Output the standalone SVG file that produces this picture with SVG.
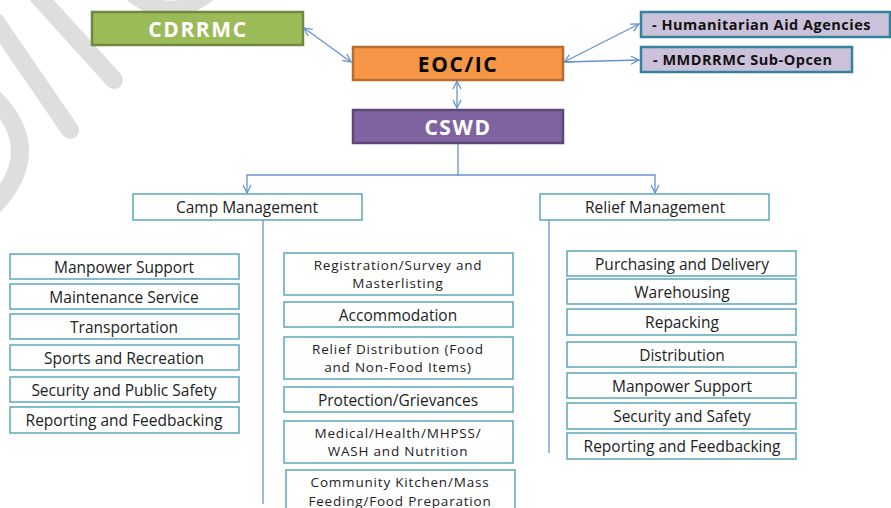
<svg xmlns="http://www.w3.org/2000/svg" width="891" height="508" viewBox="0 0 891 508">
<defs>
<style>
.wm{fill:none;stroke:#dedede;stroke-linecap:round}
.head{font-family:"Open Sans","Liberation Sans",sans-serif;font-weight:bold;font-size:21px;letter-spacing:1.6px;text-anchor:middle;dominant-baseline:central}
.side{font-family:"Open Sans","Liberation Sans",sans-serif;font-weight:bold;font-size:14.5px;letter-spacing:0.5px;fill:#111;dominant-baseline:central}
.box{fill:#fff;stroke:#5ba6bb;stroke-width:1.5}
.lbl{font-family:"Open Sans","Liberation Sans",sans-serif;font-size:15.5px;fill:#222;text-anchor:middle;dominant-baseline:central}
.lbl2{font-family:"Open Sans","Liberation Sans",sans-serif;font-size:13.5px;letter-spacing:0.8px;fill:#222;text-anchor:middle}
.con{fill:none;stroke:#6793cf;stroke-width:1.3}
</style>
<marker id="arr" viewBox="0 0 10 10" refX="9" refY="5" markerWidth="10" markerHeight="10" markerUnits="userSpaceOnUse" orient="auto-start-reverse">
<path d="M1,1 L9,5 L1,9" fill="none" stroke="#6793cf" stroke-width="1.3"/>
</marker>
</defs>
<g id="watermark">
<path class="wm" d="M38,-4 L114,80" stroke-width="18"/>
<path class="wm" d="M-4,22 L70,130" stroke-width="18"/>
<path class="wm" d="M-6,98 Q46,150 -6,206" stroke-width="18"/>
<path class="wm" d="M132,-6 Q170,24 208,-6" stroke-width="16"/>
</g>
<g id="connectors">
<line class="con" x1="304" y1="28" x2="351" y2="62" marker-start="url(#arr)" marker-end="url(#arr)"/>
<line class="con" x1="564" y1="62" x2="639" y2="24" marker-start="url(#arr)" marker-end="url(#arr)"/>
<line class="con" x1="564" y1="62" x2="639" y2="60" marker-end="url(#arr)"/>
<line class="con" x1="457" y1="81" x2="457" y2="108" marker-start="url(#arr)" marker-end="url(#arr)"/>
<path class="con" d="M458,143 V175 H247 V193" marker-end="url(#arr)"/>
<path class="con" d="M458,175 H655 V193" marker-end="url(#arr)"/>
<line class="con" x1="263" y1="220" x2="263" y2="504"/>
<line class="con" x1="549" y1="220" x2="549" y2="453"/>
</g>
<g id="cdrrmc">
<rect x="92" y="12" width="211" height="33" fill="#9bbb59" stroke="#71893f" stroke-width="2.5"/>
<text class="head" x="198" y="29" fill="#fff">CDRRMC</text>
</g>
<g id="eoc">
<rect x="353" y="47" width="210" height="33" fill="#f79646" stroke="#b66d31" stroke-width="2.5"/>
<text class="head" x="458" y="64" fill="#000">EOC/IC</text>
</g>
<g id="cswd">
<rect x="353" y="110" width="210" height="33" fill="#8064a2" stroke="#5c4776" stroke-width="2.5"/>
<text class="head" x="458" y="127" fill="#fff">CSWD</text>
</g>
<g id="humanitarian">
<rect x="641" y="12" width="249" height="25" fill="#ccc1da" stroke="#31849b" stroke-width="2.5"/>
<text class="side" x="652" y="24.5">- Humanitarian Aid Agencies</text>
</g>
<g id="mmdrrmc">
<rect x="641" y="47" width="211" height="25" fill="#ccc1da" stroke="#31849b" stroke-width="2.5"/>
<text class="side" x="653" y="59.5">- MMDRRMC Sub-Opcen</text>
</g>
<g id="camp">
<rect class="box" x="133" y="194" width="229" height="26"/>
<text class="lbl" x="247" y="207">Camp Management</text>
</g>
<g id="relief">
<rect class="box" x="540" y="194" width="229" height="26"/>
<text class="lbl" x="655" y="207">Relief Management</text>
</g>
<g id="c1"><rect class="box" x="10" y="254" width="229" height="25"/><text class="lbl" x="124" y="266.5">Manpower Support</text></g>
<g id="c2"><rect class="box" x="10" y="284" width="229" height="25"/><text class="lbl" x="124" y="296.5">Maintenance Service</text></g>
<g id="c3"><rect class="box" x="10" y="314" width="229" height="25"/><text class="lbl" x="124" y="326.5">Transportation</text></g>
<g id="c4"><rect class="box" x="10" y="345" width="229" height="25"/><text class="lbl" x="124" y="357.5">Sports and Recreation</text></g>
<g id="c5"><rect class="box" x="10" y="377" width="229" height="25"/><text class="lbl" x="124" y="389.5">Security and Public Safety</text></g>
<g id="c6"><rect class="box" x="10" y="407" width="229" height="26"/><text class="lbl" x="124" y="420">Reporting and Feedbacking</text></g>
<g id="m1"><rect class="box" x="284" y="253" width="229" height="42"/><text class="lbl2" x="398" y="269.5"><tspan x="398">Registration/Survey and</tspan><tspan x="398" dy="18.5">Masterlisting</tspan></text></g>
<g id="m2"><rect class="box" x="284" y="302" width="229" height="25"/><text class="lbl" x="398" y="314.5">Accommodation</text></g>
<g id="m3"><rect class="box" x="284" y="337" width="229" height="42"/><text class="lbl2" x="398" y="353.5"><tspan x="398">Relief Distribution (Food</tspan><tspan x="398" dy="18.5">and Non-Food Items)</tspan></text></g>
<g id="m4"><rect class="box" x="284" y="387" width="229" height="25"/><text class="lbl" x="398" y="399.5">Protection/Grievances</text></g>
<g id="m5"><rect class="box" x="284" y="421" width="229" height="42"/><text class="lbl2" x="398" y="437.5"><tspan x="398">Medical/Health/MHPSS/</tspan><tspan x="398" dy="18.5">WASH and Nutrition</tspan></text></g>
<g id="m6"><rect class="box" x="286" y="470" width="229" height="45"/><text class="lbl2" x="400" y="487"><tspan x="400">Community Kitchen/Mass</tspan><tspan x="400" dy="18.5">Feeding/Food Preparation</tspan></text></g>
<g id="r1"><rect class="box" x="567" y="251" width="229" height="25"/><text class="lbl" x="682" y="263.5">Purchasing and Delivery</text></g>
<g id="r2"><rect class="box" x="567" y="279" width="229" height="25"/><text class="lbl" x="682" y="291.5">Warehousing</text></g>
<g id="r3"><rect class="box" x="567" y="309" width="229" height="26"/><text class="lbl" x="682" y="322">Repacking</text></g>
<g id="r4"><rect class="box" x="567" y="342" width="229" height="25"/><text class="lbl" x="682" y="354.5">Distribution</text></g>
<g id="r5"><rect class="box" x="567" y="373" width="229" height="25"/><text class="lbl" x="682" y="385.5">Manpower Support</text></g>
<g id="r6"><rect class="box" x="567" y="403" width="229" height="26"/><text class="lbl" x="682" y="416">Security and Safety</text></g>
<g id="r7"><rect class="box" x="567" y="433" width="229" height="26"/><text class="lbl" x="682" y="446">Reporting and Feedbacking</text></g>
</svg>
